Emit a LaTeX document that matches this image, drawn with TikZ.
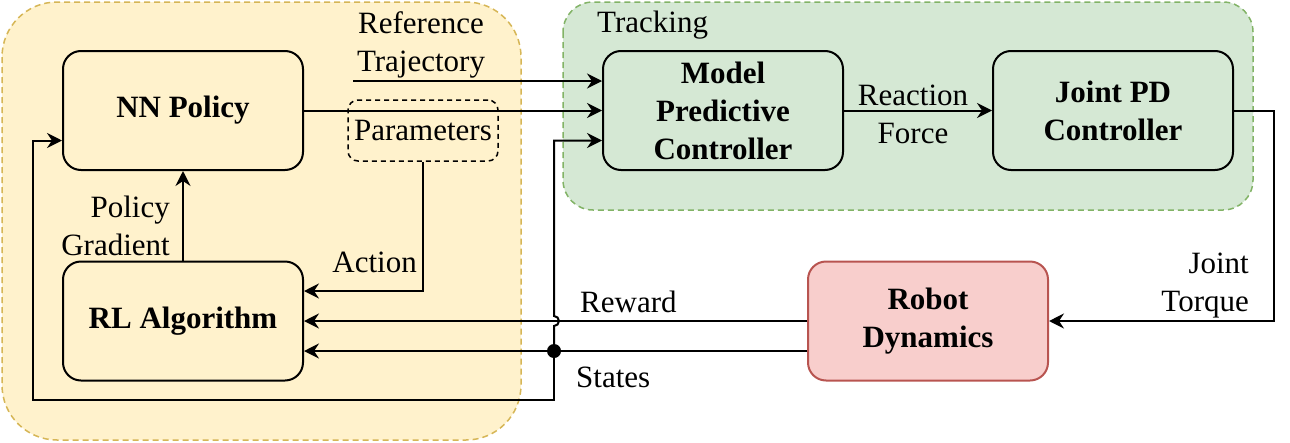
\documentclass[tikz,border=0pt]{standalone}
\usepackage{fontspec}
\setmainfont{Liberation Serif}
\usetikzlibrary{calc,positioning,arrows.meta}
\definecolor{learnfill}{HTML}{FFF2CC}
\definecolor{learnline}{HTML}{D6B656}
\definecolor{trackfill}{HTML}{D5E8D4}
\definecolor{trackline}{HTML}{82B366}
\definecolor{robotfill}{HTML}{F8CECC}
\definecolor{robotline}{HTML}{B85450}

\begin{document}
\begin{tikzpicture}[x=1pt,y=-1pt,
  font=\fontsize{31}{38}\selectfont,
  block/.style={draw,line width=2pt,rounded corners=18pt,minimum width=240pt,minimum height=119pt,align=center,font=\fontsize{31}{38}\selectfont\bfseries},
  region/.style={line width=1.5pt,dash pattern=on 6pt off 4pt},
  arr/.style={line width=2pt,-{Stealth[length=15pt,width=15pt,inset=5pt]}},
  lbl/.style={align=center,inner sep=0pt}]
\useasboundingbox (0,0) rectangle (1290,442);

% groups
\draw[region,fill=learnfill,draw=learnline,rounded corners=55pt] (2,2) rectangle (521,440);
\draw[region,fill=trackfill,draw=trackline,rounded corners=30pt] (563,2) rectangle (1253,210);
\node[lbl,anchor=base west] (tracking) at (597,32) {Tracking};

% blocks
\node[block] (policy) at (183,110.5) {NN Policy};
\node[block] (rl) at (183,321) {RL Algorithm};
\node[block,fill=trackfill] (mpc) at (723,110.5) {Model\\Predictive\\Controller};
\node[block,fill=trackfill] (pd) at (1113,110.5) {Joint PD\\Controller};
\node[block,fill=robotfill,draw=robotline] (robot) at (928,321) {Robot\\Dynamics};
\node[draw,line width=1.5pt,dash pattern=on 5pt off 4pt,rounded corners=10pt,minimum width=150pt,minimum height=61pt,inner sep=0pt] (params) at (423,130.5) {Parameters};

% labels
\node[lbl] (reflbl) at (421,45) {Reference\\Trajectory};
\node[lbl,align=right,anchor=east] (gradlbl) at (170,225.5) {Policy\\Gradient};
\node[lbl,anchor=base east] (actlbl) at (417,272) {Action};
\node[lbl,anchor=base west] (rewlbl) at (580,312) {Reward};
\node[lbl,anchor=base west] (stlbl) at (576,387) {States};
\node[lbl] (forcelbl) at (913,114.5) {Reaction\\Force};
\node[lbl,align=right,anchor=east] (torquelbl) at (1249,285.5) {Joint\\Torque};

% connectors
\coordinate (refin) at (353,81);
\draw[arr] (refin) -- (refin -| mpc.west);
\draw[arr] (policy.east) -- (mpc.west);
\draw[arr] (mpc.east) -- (pd.west);
\draw[arr] (pd.east) -- ++(40,0) |- (robot.east);
\draw[arr] (robot.west) -- (rl.east);
\draw[arr] ($(robot.west)+(0,30)$) -- ($(rl.east)+(0,30)$);
\draw[arr] (params.south) |- ($(rl.east)+(0,-30)$);
\draw[arr] (rl.north) -- (policy.south);

\coordinate (tap) at ($(rl.east)+(250,30)$);
\coordinate (back) at (33,400);
\draw[arr] (tap) -- ($(tap)+(0,-25)$) arc[start angle=90,end angle=-90,radius=5] |- ($(mpc.west)+(0,30)$);
\draw[arr] (tap) |- (back) |- ($(policy.west)+(0,30)$);
\fill (tap) circle[radius=7];

\end{tikzpicture}
\end{document}
